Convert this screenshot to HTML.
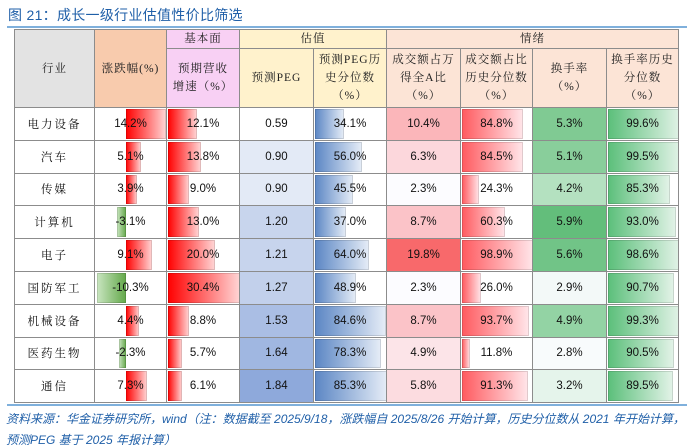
<!DOCTYPE html>
<html><head><meta charset="utf-8">
<style>
body{margin:0;width:691px;height:444px;background:#fff;position:relative;overflow:hidden;font-family:"Liberation Sans","Noto Sans CJK SC",sans-serif}
.abs{position:absolute;box-sizing:border-box}
.title{left:8px;top:5px;font-size:14px;color:#1f5fa8;letter-spacing:0.3px}
.hd{border:1px solid #8c8c8c;display:flex;align-items:center;justify-content:center;text-align:center;font-family:"Liberation Serif","Noto Serif CJK SC",serif;font-size:11.5px;color:#222;line-height:18px;letter-spacing:1px}
.cell{border:1px solid #8c8c8c;font-size:11.5px;color:#111;display:flex;align-items:center;justify-content:center;overflow:hidden}
.bar{position:absolute;top:1px;bottom:1px;box-shadow:inset 0 0 0 1px rgba(0,0,0,0.12)}
.txt{position:relative;z-index:2}
.foot{left:6px;font-size:12px;color:#1f5fa8;font-style:italic;white-space:nowrap;letter-spacing:0}
</style></head><body>
<div class="abs title">图 21：成长一级行业估值性价比筛选</div>
<div class="abs" style="left:7px;top:26px;width:680px;height:2px;background:#7fb0dc"></div>
<div id="tbl"></div>
<div class="abs" style="left:7px;top:404px;width:680px;height:2px;background:#7fb0dc"></div>
<div class="abs foot" style="top:410px">资料来源：华金证券研究所，wind（注：数据截至 2025/9/18，涨跌幅自 2025/8/26 开始计算，历史分位数从 2021 年开始计算，</div>
<div class="abs foot" style="top:431px">预测PEG 基于 2025 年报计算）</div>
<script>
const industries=["电力设备","汽车","传媒","计算机","电子","国防军工","机械设备","医药生物","通信"];
const change=[14.2,5.1,3.9,-3.1,9.1,-10.3,4.4,-2.3,7.3];
const growth=[12.1,13.8,9.0,13.0,20.0,30.4,8.8,5.7,6.1];
const peg=[0.59,0.90,0.90,1.20,1.21,1.27,1.53,1.64,1.84];
const pegPct=[34.1,56.0,45.5,37.0,64.0,48.9,84.6,78.3,85.3];
const turnShare=[10.4,6.3,2.3,8.7,19.8,2.3,8.7,4.9,5.8];
const turnSharePct=[84.8,84.5,24.3,60.3,98.9,26.0,93.7,11.8,91.3];
const turnover=[5.3,5.1,4.2,5.9,5.6,2.9,4.9,2.8,3.2];
const turnoverPct=[99.6,99.5,85.3,93.0,98.6,90.7,99.3,90.5,89.5];

const X=[14,94,166,239,313,386,460,532,606,678];
const top0=107,rowH=32.8;
const T=document.getElementById('tbl');
function box(l,t,w,h,cls,html,bg){const d=document.createElement('div');d.className='abs '+cls;d.style.left=l+'px';d.style.top=t+'px';d.style.width=w+'px';d.style.height=h+'px';if(bg)d.style.background=bg;d.innerHTML=html;T.appendChild(d);return d;}
function mix(a,b,t){t=Math.max(0,Math.min(1,t));return 'rgb('+a.map((v,i)=>Math.round(v+(b[i]-v)*t)).join(',')+')';}
let h;
h=box(X[0],29,X[1]-X[0]+1,79,'hd','行业','#e3e3e3');
h=box(X[1],29,X[2]-X[1]+1,79,'hd','涨跌幅(%)','#f8cbad');
h=box(X[2],29,X[3]-X[2]+1,20,'hd','基本面','#f8d0f4');
h=box(X[3],29,X[5]-X[3]+1,20,'hd','估值','#fff2cc');
h=box(X[5],29,X[9]-X[5]+1,20,'hd','情绪','#fce4d6');
const subs=[['预期营收<br>增速（%）','#f8d0f4','header-growth'],['预测PEG','#fff2cc','header-peg'],['预测PEG历<br>史分位数<br>（%）','#fff2cc','header-peg-pct'],['成交额占万<br>得全A比<br>（%）','#fce4d6','header-turnover-share'],['成交额占比<br>历史分位数<br>（%）','#fce4d6','header-turnover-share-pct'],['换手率<br>（%）','#fce4d6','header-turnover'],['换手率历史<br>分位数<br>（%）','#fce4d6','header-turnover-pct']];
subs.forEach((s,i)=>{const d=box(X[i+2],48,X[i+3]-X[i+2]+1,60,'hd',s[0],s[1]);

});

const fmt=v=>v.toFixed(1)+'%';
function barCell(col,r,html,l,w,grad,name){
  const d=box(X[col],top0+r*rowH,X[col+1]-X[col]+1,rowH+1,'cell','<span class="txt">'+html+'</span>');
  
  
  const b=document.createElement('div');b.className='bar';b.style.left=l+'px';b.style.width=Math.max(0,w)+'px';b.style.background=grad;
  
  
  d.appendChild(b);return d;
}
const redG='linear-gradient(90deg,#ff0000,#ffd6d6)';
const greenG='linear-gradient(90deg,#c9e5c0,#63a84a)';
const blueG='linear-gradient(90deg,#5b86c4,#e6edf7)';
const pinkG='linear-gradient(90deg,#ff5a5f,#ffe6ea)';
const grnG='linear-gradient(90deg,#5bbf7a,#e3f3e8)';
industries.forEach((ind,r)=>{
  const y=top0+r*rowH;
  let d=box(X[0],y,X[1]-X[0]+1,rowH+1,'cell','<span style="font-family:\'Noto Serif CJK SC\',serif;letter-spacing:2px">'+ind+'</span>');
  
  
  const z=31,sc=2.85,v=change[r];
  if(v>=0) barCell(1,r,fmt(v),z,v*sc,redG,'change-'+r);
  else barCell(1,r,fmt(v),z+v*sc,-v*sc,greenG,'change-'+r);
  barCell(2,r,fmt(growth[r]),1,growth[r]*72/30.4,redG,'growth-'+r);
  d=box(X[3],y,X[4]-X[3]+1,rowH+1,'cell',peg[r].toFixed(2),mix([255,255,255],[142,169,219],(peg[r]-0.59)/(1.84-0.59)));
  
  
  barCell(4,r,fmt(pegPct[r]),1,pegPct[r]*0.84,blueG,'peg-pct-'+r);
  const ts=turnShare[r];
  const tsc=ts<=6.3?mix([252,252,255],[252,215,220],(ts-2.3)/4):mix([252,215,220],[248,105,107],(ts-6.3)/13.5);
  d=box(X[5],y,X[6]-X[5]+1,rowH+1,'cell',fmt(ts),tsc);
  
  
  barCell(6,r,fmt(turnSharePct[r]),1,turnSharePct[r]*0.72,pinkG,'turnover-share-pct-'+r);
  const tv=turnover[r];
  const tvc=tv<=4.2?mix([248,251,252],[180,225,192],(tv-2.8)/1.4):mix([180,225,192],[99,190,123],(tv-4.2)/1.7);
  d=box(X[7],y,X[8]-X[7]+1,rowH+1,'cell',fmt(tv),tvc);
  
  
  barCell(8,r,fmt(turnoverPct[r]),1,turnoverPct[r]*0.73,grnG,'turnover-pct-'+r);
});
</script>
</body></html>
